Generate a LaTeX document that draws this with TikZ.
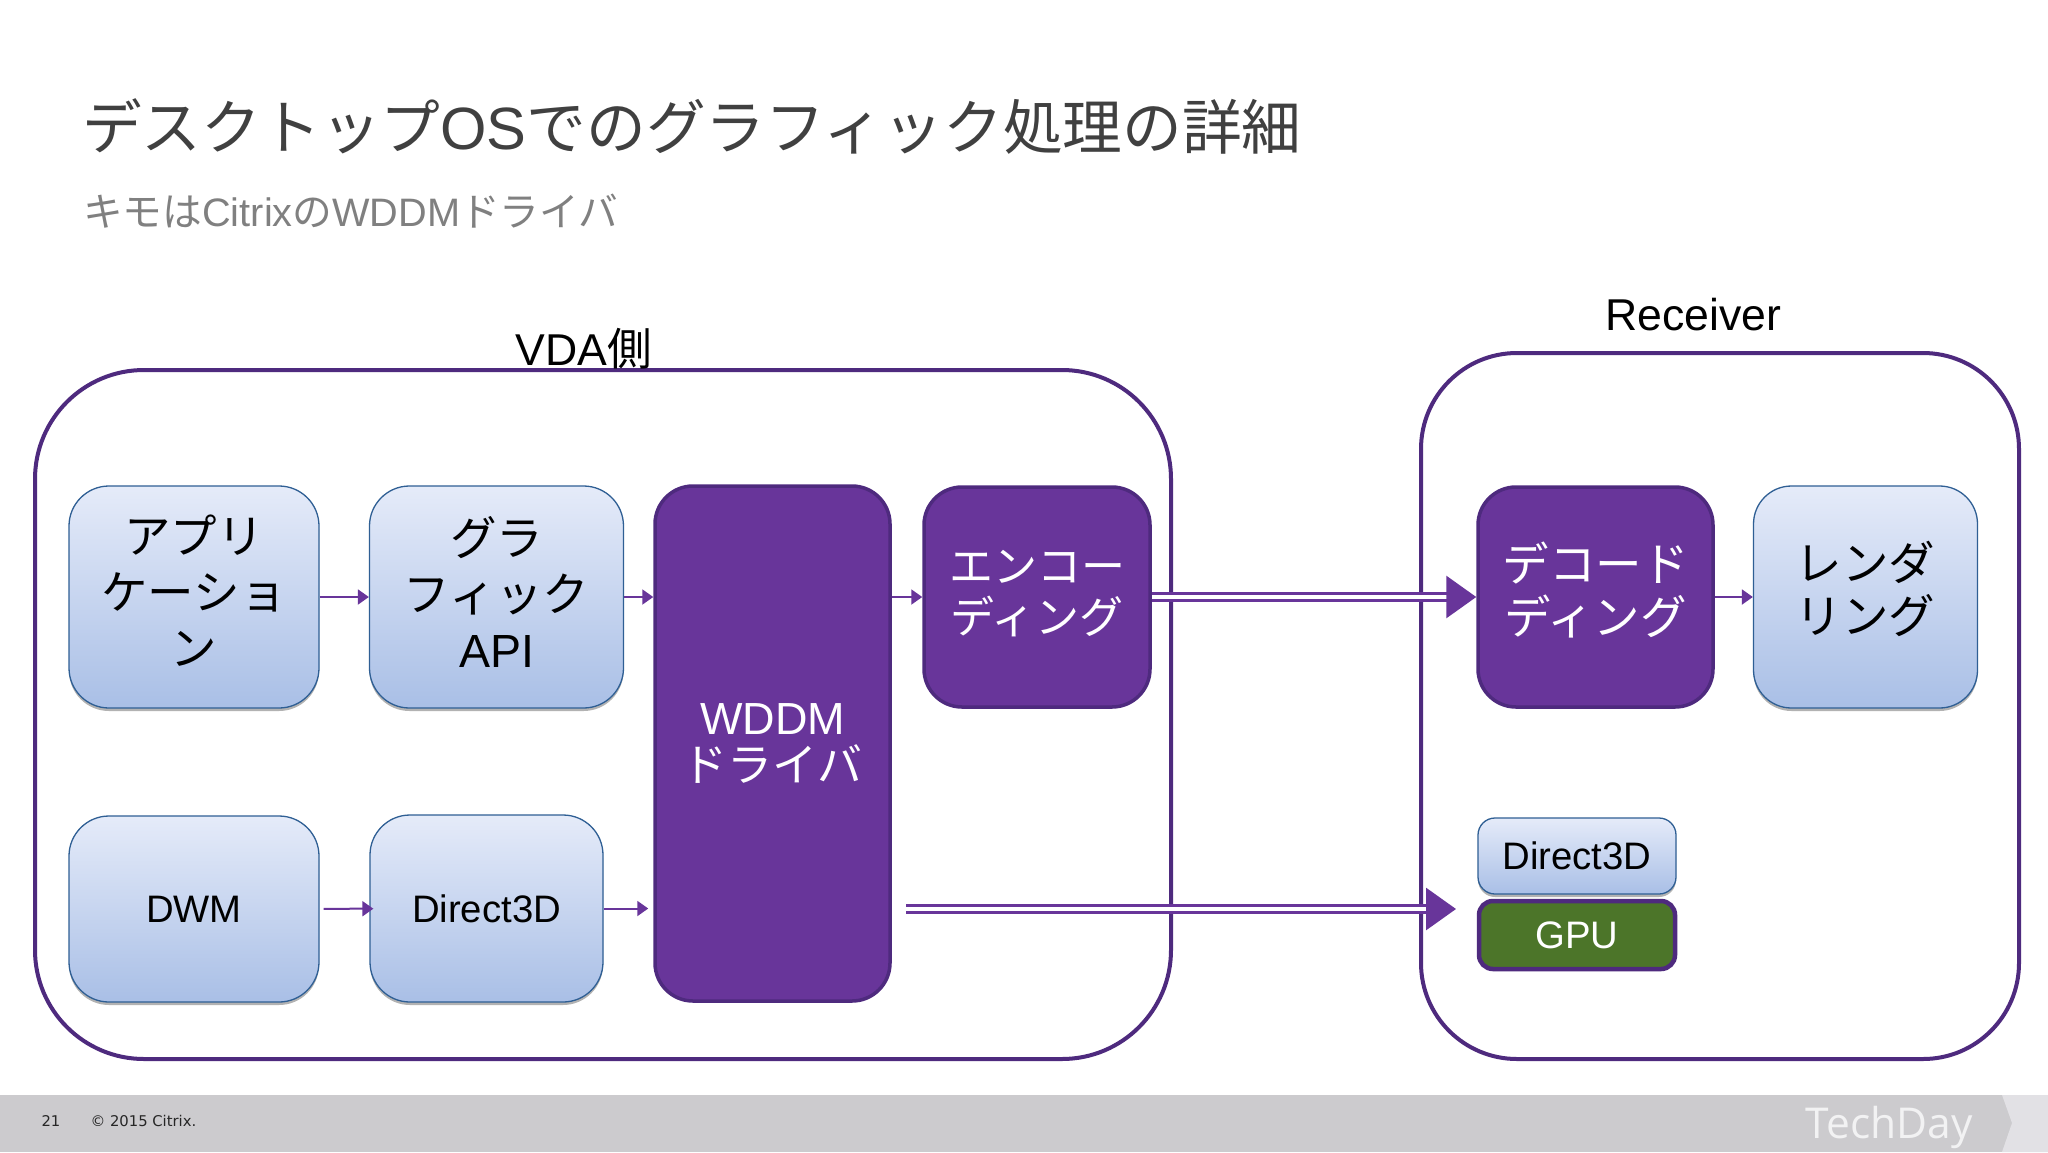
\documentclass[tikz,border=0pt]{standalone}
\usepackage{fontspec}
\usetikzlibrary{arrows.meta}
\usetikzlibrary{shadows}
\setmainfont{Liberation Sans}
\newfontfamily\jpfont{Noto Sans CJK JP}
\newfontfamily\footfont{DejaVu Sans}
\newfontfamily\brandfont{Open Sans}
\newcommand{\jp}[1]{{\jpfont #1}}
\definecolor{citrixpurple}{HTML}{68359A}
\definecolor{darkpurple}{HTML}{4E2A7E}
\definecolor{boxedge}{HTML}{2F5F94}
\definecolor{boxtop}{HTML}{E5EBF9}
\definecolor{boxbottom}{HTML}{A9BFE6}
\definecolor{footergray}{HTML}{CCCBCE}
\definecolor{chevrongray}{HTML}{E2E1E5}
\definecolor{gpugreen}{HTML}{4C7529}
\tikzset{>=latex}
\tikzset{
  outerbox/.style={draw=darkpurple, line width=4pt, rounded corners=#1, fill=white},
  bluebox/.style={draw=boxedge, line width=1.3pt, top color=boxtop, bottom color=boxbottom, rounded corners=#1,
    align=center, inner sep=0pt, text=black, font=\fontsize{46.5}{56}\selectfont,
    drop shadow={shadow xshift=0pt, shadow yshift=-3pt, opacity=.3, fill=black}},
  purplebox/.style={draw=darkpurple, line width=3.5pt, fill=citrixpurple, rounded corners=38pt,
    align=center, inner sep=0pt, text=white, font=\fontsize{44}{51}\selectfont},
  smalltext/.style={font=\fontsize{38.3}{46}\selectfont},
  thinarrow/.style={draw=citrixpurple, line width=2pt, -{Triangle[length=11pt,width=15pt]}},
  bigarrow/.style={draw=citrixpurple, line width=3pt, double=white, double distance=3.5pt,
    -{Triangle[length=30pt,width=42pt]}},
  sidelabel/.style={font=\fontsize{44.6}{50}\selectfont, text=black},
}
\begin{document}
\begin{tikzpicture}[x=1pt,y=-1pt]
  \useasboundingbox (0,0) rectangle (2048,1152);
  % footer
  \fill[footergray] (0,1095) rectangle (2048,1152);
  \fill[chevrongray] (2002,1095) -- (2012,1123) -- (2002,1152) -- (2048,1152) -- (2048,1095) -- cycle;
  \node[anchor=west, text=black!85, font=\footfont\fontsize{14.8}{16}\selectfont] (pagenum) at (38,1121) {21};
  \node[anchor=west, text=black!85, font=\footfont\fontsize{14.8}{16}\selectfont] (copyr) at (87,1121) {© 2015 Citrix.};
  \node[anchor=center, text=white!75!footergray, font=\brandfont\fontsize{42.5}{50}\selectfont] (brand) at (1889,1127) {TechDay};
  % headings
  \node[anchor=west, inner sep=0pt, text=black!75, font=\fontsize{59.7}{66}\selectfont] (title) at (82,127)
    {\jp{デスクトップ}OS\jp{でのグラフィック処理の詳細}};
  \node[anchor=west, inner sep=0pt, text=black!50, font=\fontsize{39.7}{44}\selectfont] (subtitle) at (83,211)
    {\jp{キモは}Citrix\jp{の}WDDM\jp{ドライバ}};
  % outer boxes
  \node[outerbox=109pt, minimum width=1136pt, minimum height=689pt] (vda) at (603,714.5) {};
  \node[outerbox=96pt, minimum width=598pt, minimum height=706pt] (recv) at (1720,706) {};
  \node[sidelabel] (vdalabel) at (584,349) {VDA\jp{側}};
  \node[sidelabel] (recvlabel) at (1693,315) {Receiver};
  % VDA side
  \node[bluebox=40pt, text depth=13pt, minimum width=250pt, minimum height=222pt] (apps) at (194,597) {\jp{アプリ}\\\jp{ケーショ}\\\jp{ン}};
  \node[bluebox=40pt, text depth=11pt, minimum width=254pt, minimum height=222pt] (gapi) at (496.5,597) {\jp{グラ}\\\jp{フィック}\\API};
  \node[purplebox, minimum width=235pt, minimum height=515pt, font=\fontsize{45}{51}\selectfont] (wddm) at (772.5,743.5) {WDDM\\[-4pt]\jp{ドライバ}};
  \node[purplebox, text depth=11pt, minimum width=226pt, minimum height=220pt] (enc) at (1037,597) {\jp{エンコー}\\\jp{ディング}};
  \node[bluebox=40pt, smalltext, minimum width=250pt, minimum height=186pt] (dwm) at (194,909) {DWM};
  \node[bluebox=40pt, smalltext, minimum width=233pt, minimum height=187pt] (d3d) at (486.5,908.5) {Direct3D};
  % Receiver side
  \node[purplebox, text depth=17pt, minimum width=235pt, minimum height=220pt, font=\fontsize{46.5}{53}\selectfont] (dec) at (1595.5,597) {\jp{デコード}\\\jp{ディング}};
  \node[bluebox=38pt, text depth=19pt, minimum width=224pt, minimum height=222pt, font=\fontsize{46.5}{53}\selectfont] (rend) at (1865.5,597) {\jp{レンダ}\\\jp{リング}};
  \node[bluebox=17pt, smalltext, minimum width=198pt, minimum height=76pt] (rd3d) at (1577,856) {Direct3D};
  \node[draw=darkpurple, line width=4.5pt, fill=gpugreen, rounded corners=14pt, text=white, inner sep=0pt,
    smalltext, minimum width=196pt, minimum height=68pt] (gpu) at (1577,935) {GPU};
  % connectors
  \coordinate (wddmout) at (906,909);
  \coordinate (recvin) at (1456,909);
  \draw[thinarrow] (apps) -- (gapi);
  \draw[thinarrow] (gapi.east) -- (gapi.east -| wddm.west);
  \draw[thinarrow] (wddm.east |- enc.west) -- (enc.west);
  \draw[thinarrow] (dec) -- (rend);
  \draw[thinarrow, shorten <=4pt, shorten >=-4pt] (dwm) -- (d3d);
  \draw[thinarrow, shorten >=5pt] (d3d.east) -- (d3d.east -| wddm.west);
  \draw[bigarrow] (enc.east) -- (dec.west);
  \draw[bigarrow] (wddmout) -- (recvin);
\end{tikzpicture}
\end{document}
